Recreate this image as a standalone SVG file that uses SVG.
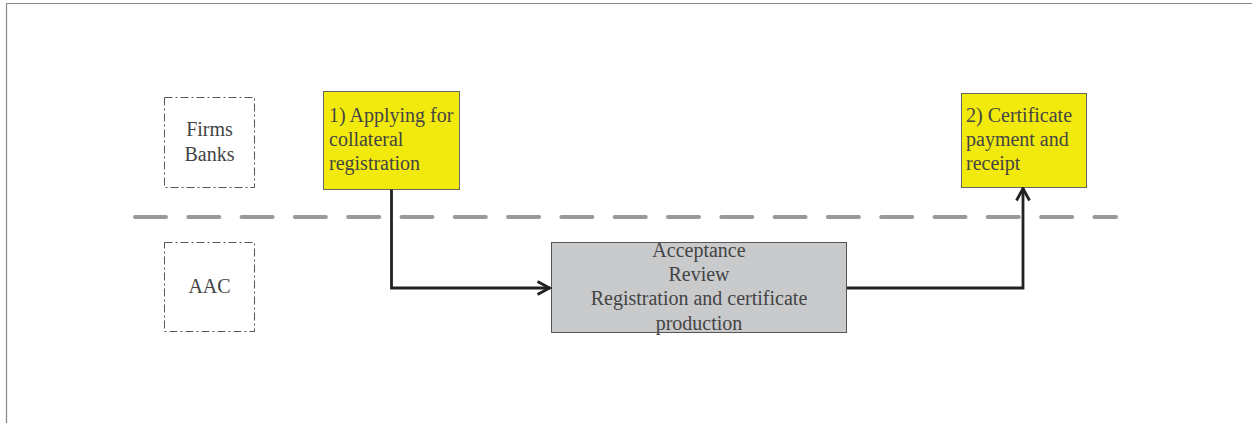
<svg xmlns="http://www.w3.org/2000/svg" width="1252" height="423" viewBox="0 0 1252 423">
<defs>
<style>
.t{font-family:"Liberation Serif","Times New Roman",serif;font-size:20px;fill:#444}
.c{text-anchor:middle}
.lane{fill:none;stroke:#555;stroke-width:1;stroke-dasharray:8 3 2 3}
.yel{fill:#F2EA0C;stroke:#666;stroke-width:1}
.gry{fill:#C9CACC;stroke:#555;stroke-width:1}
.conn{fill:none;stroke:#222;stroke-width:2.8}
</style>
<marker id="arr" viewBox="0 0 16 16" refX="14.5" refY="8" markerWidth="16" markerHeight="16" markerUnits="userSpaceOnUse" orient="auto">
<path d="M2,1.5 L14,8 L2,14.5" fill="none" stroke="#222" stroke-width="2.8"/>
</marker>
</defs>
<rect width="1252" height="423" fill="#fff"/>
<path d="M6.5,423 V3.5 H1252" fill="none" stroke="#888" stroke-width="1.2"/>
<line x1="135" y1="217" x2="1116" y2="217" stroke="#999" stroke-width="4" stroke-linecap="round" stroke-dasharray="31 22.3"/>
<g id="lane-firms">
<rect class="lane" x="164.5" y="97.5" width="90" height="90"/>
<text class="t c" x="209.5" y="136">Firms</text>
<text class="t c" x="209.5" y="161">Banks</text>
</g>
<g id="lane-aac">
<rect class="lane" x="164.5" y="242.5" width="90" height="89"/>
<text class="t c" x="209.5" y="293">AAC</text>
</g>
<g id="step1">
<rect class="yel" x="323.5" y="91.5" width="136" height="98"/>
<text class="t" x="329" y="122">1) Applying for</text>
<text class="t" x="329" y="146">collateral</text>
<text class="t" x="329" y="170">registration</text>
</g>
<g id="step2">
<rect class="yel" x="961.5" y="93.5" width="125" height="94"/>
<text class="t" x="966" y="122">2) Certificate</text>
<text class="t" x="966" y="146">payment and</text>
<text class="t" x="966" y="170">receipt</text>
</g>
<g id="aac-process">
<rect class="gry" x="551.5" y="242.5" width="295" height="90"/>
<text class="t c" x="699" y="257">Acceptance</text>
<text class="t c" x="699" y="281">Review</text>
<text class="t c" x="699" y="305">Registration and certificate</text>
<text class="t c" x="699" y="330">production</text>
</g>
<g id="connectors">
<path class="conn" d="M391.5,189.5 V288 H550" marker-end="url(#arr)"/>
<path class="conn" d="M847,288 H1023 V188" marker-end="url(#arr)"/>
</g>
</svg>
